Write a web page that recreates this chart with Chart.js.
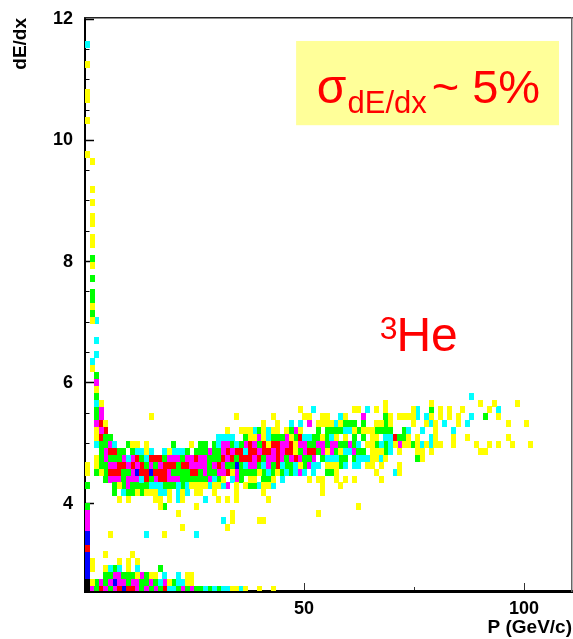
<!DOCTYPE html>
<html>
<head>
<meta charset="utf-8">
<script src="https://cdn.jsdelivr.net/npm/chart.js@4"></script>
<style>
  html, body { margin: 0; background: #fff; }
  canvas { display: block; }
</style>
</head>
<body>
<canvas id="chart" width="573" height="639"></canvas>
<script>
// bin centres of the histogram
const pBins = [0.85, 1.88, 2.90, 3.93, 4.96, 5.99, 7.01, 8.04, 9.07, 10.09,
  11.12, 12.15, 13.17, 14.20, 15.23, 16.26, 17.28, 18.31, 19.34, 20.36,
  21.39, 22.42, 23.44, 24.47, 25.50, 26.53, 27.55, 28.58, 29.61, 30.63,
  31.66, 32.69, 33.71, 34.74, 35.77, 36.80, 37.82, 38.85, 39.88, 40.90,
  41.93, 42.96, 43.98, 45.01, 46.04, 47.07, 48.09, 49.12, 50.15, 51.17,
  52.20, 53.23, 54.25, 55.28, 56.31, 57.34, 58.36, 59.39, 60.42, 61.44,
  62.47, 63.50, 64.52, 65.55, 66.58, 67.61, 68.63, 69.66, 70.69, 71.71,
  72.74, 73.77, 74.79, 75.82, 76.85, 77.88, 78.90, 79.93, 80.96, 81.98,
  83.01, 84.04, 85.06, 86.09, 87.12, 88.15, 89.17, 90.20, 91.23, 92.25,
  93.28, 94.31, 95.33, 96.36, 97.39, 98.42, 99.44, 100.47, 101.50, 102.52];
const dedxBins = [2.590, 2.704, 2.818, 2.932, 3.046, 3.160, 3.273, 3.387, 3.501, 3.615,
  3.729, 3.843, 3.957, 4.071, 4.185, 4.299, 4.412, 4.526, 4.640, 4.754,
  4.868, 4.982, 5.096, 5.210, 5.324, 5.438, 5.551, 5.665, 5.779, 5.893,
  6.007, 6.121, 6.235, 6.349, 6.463, 6.577, 6.690, 6.804, 6.918, 7.032,
  7.146, 7.260, 7.374, 7.488, 7.602, 7.716, 7.829, 7.943, 8.057, 8.171,
  8.285, 8.399, 8.513, 8.627, 8.741, 8.855, 8.968, 9.082, 9.196, 9.310,
  9.424, 9.538, 9.652, 9.766, 9.880, 9.994, 10.107, 10.221, 10.335, 10.449,
  10.563, 10.677, 10.791, 10.905, 11.019, 11.133, 11.246, 11.360, 11.474, 11.588];

// one line per dE/dx bin: [first p bin, level of each following bin]
// y < c < g < m < r < b < k, "." is an empty bin
const cellRows = [
  [[0, "kmgrmgmrbrrmgmgmgrccgmgmggcgcgccyycy..y..y"]],
  [[0, "kygmgmbmmgmmggmgcmygccyy"]],
  [[0, "b...ggmmgggymgyy.c..c.yy"]],
  [[0, "by..ycgc.y.c....g"]],
  [[0, "by.....y.y.y"]],
  [[0, "b...y.....y"]],
  [[0, "r"]],
  [[0, "b"]],
  [[0, "b....y.......c...y......c"]],
  [[0, "m"], [21, "y"], [31, "y"]],
  [[0, "m"], [30, "c"], [32, "y"], [38, "yy"]],
  [[0, "m"], [20, "y"], [32, "y"], [51, "y"]],
  [[0, "g"], [16, "yg"], [24, "y"], [60, "y"]],
  [[7, "y.y"], [15, "yy.y.cy"], [26, "c"], [29, "y.y.y"], [40, "y"]],
  [[6, "g.cggygyyyccy.cyc.yy..y"], [33, "y"], [39, "y"], [52, "y"]],
  [[0, "g"], [6, "gygmggggcccgggcgcyyyycyycm.y"], [35, "yggcyyc"], [52, "y"], [56, "y"]],
  [[4, "gmmmgmmmcrgmrrmmmggggggmcgy.cmg."], [36, "yy.ggy.c"], [49, "y.yy..y.y.y.....y"]],
  [[0, "y.gygrrrggmbrrbrrrmggggrrgmggmmrymggggygcgygcgcmc.c..ggy"], [64, "y...cy"]],
  [[0, "y.yggmmrrmrmrgmgmrrrgrrmmmmgmrmggbgcmmgcmgrcggcygmcc.yyygc.cc.yy.y...y"]],
  [[2, "ygmgggmcmrgcrrrgmmmgmmrmmgggrmrgrrrmrgmmrmgmrmggm.gcccgg.gcccyycy"], [73, "gy"]],
  [[3, "gmrrgg.gccyc..cycccg.gggmggmrmrrcrrmrrmrmrrygmrrgmymgyccmgg.yyygc.y"], [73, "yy.y"], [87, "yy"]],
  [[2, "cggmc..gyy.y.....g...y.gg.gcmmgcgmrmgryrrmmrymmggmmgmmggmgc.yygcgcym"], [70, "yygycycyy..y"], [86, "y..y.y..y...y"]],
  [[2, "yrgg"], [29, "cccc..gyymycgggmygrccggygcy.y.g.g.yy.ccrggy"], [73, "y..cy...y..y"], [93, "y"]],
  [[2, "ymr"], [31, "y..yyycgycyy.ygmy...g.ggggccygyyygggg..gc"], [74, "c..y...c"]],
  [[2, "mry"], [39, "y..y..c.c.m.yyyycyggg.g..yygy"], [72, "y..ycy.c..y.c"], [93, "y...y"]],
  [[2, "gm"], [14, "y"], [33, "y"], [41, "y......yy..yy..cy...m....gy.yyyyc.cy.y.y.y..c..g..y"]],
  [[2, "gm"], [47, "y..c........yy.c.y.y"], [72, "yc..g.y.y..y.....y.c"]],
  [[2, "cy"], [66, "y"], [76, "y"], [87, "y..y....y"]],
  [[2, "g"], [85, "c"]],
  [[2, "y"]],
  [[2, "m"]],
  [[2, "g"]],
  [[1, "y"]],
  [[1, "c"]],
  [[2, "c"]],
  [],
  [[2, "c"]],
  [],
  [],
  [[1, "yc"]],
  [[1, "g"]],
  [[1, "y"]],
  [[1, "g"]],
  [[1, "g"]],
  [],
  [[1, "g"]],
  [],
  [[1, "y"]],
  [[1, "g"]],
  [],
  [[1, "y"]],
  [[1, "y"]],
  [],
  [[1, "y"]],
  [[1, "y"]],
  [],
  [[1, "y"]],
  [],
  [[1, "y"]],
  [], [], [],
  [[1, "y"]],
  [[0, "y"]],
  [], [], [], [],
  [[0, "y"]],
  [], [],
  [[0, "y"]],
  [[0, "y"]],
  [], [], [],
  [[0, "y"]],
  [], [],
  [[0, "c"]]
];

const levels = ["y", "c", "g", "m", "r", "b", "k"];
const levelColors = ["#ffff00", "#00ffff", "#00ff00", "#ff00ff", "#ff0000", "#0000ff", "#000000"];

const pTicksMajor = 50, pTicksMinor = 25;
const dedxTicksMajor = 2, dedxTicksMinor = 0.5;

// one filled tile per level, used as the point style
function cellTile(color) {
  const c = document.createElement("canvas");
  c.width = 5; c.height = 7;
  const g = c.getContext("2d");
  g.fillStyle = color;
  g.fillRect(0, 0, 5, 7);
  return c;
}

function cellsOfLevel(level) {
  const pts = [];
  cellRows.forEach((segments, r) => {
    segments.forEach(([start, cells]) => {
      [...cells].forEach((cell, i) => {
        if (cell === level) pts.push({ x: pBins[start + i], y: dedxBins[r] });
      });
    });
  });
  return pts;
}

const datasets = levels.map((level, i) => ({
  label: level,
  data: cellsOfLevel(level),
  pointStyle: cellTile(levelColors[i]),
  pointRadius: 3,
  pointHoverRadius: 3
}));

// yellow box and the two red labels, placed through the scales
const labelsPlugin = {
  id: "labels",
  beforeDatasetsDraw(chart) {
    const { x, y } = chart.scales;
    const ctx = chart.ctx;
    ctx.save();
    ctx.fillStyle = "#ffff99";
    ctx.fillRect(x.getPixelForValue(48.2), y.getPixelForValue(11.64),
      x.getPixelForValue(107.95) - x.getPixelForValue(48.2),
      y.getPixelForValue(10.25) - y.getPixelForValue(11.64));
    ctx.fillStyle = "#ff0000";
    ctx.textBaseline = "alphabetic";
    const put = (text, p, e, size) => {
      ctx.font = `${size}px "Liberation Sans"`;
      ctx.fillText(text, x.getPixelForValue(p), y.getPixelForValue(e));
    };
    put("σ", 52.9, 10.61, 48);
    put("dE/dx", 59.9, 10.45, 31);
    put("~ 5%", 79.0, 10.61, 47);
    put("3", 67.2, 6.72, 32);
    put("He", 71.0, 6.53, 48);
    ctx.restore();
  }
};

const tickFont = { family: "Liberation Sans", size: 18, weight: "bold" };
const titleFont = { family: "Liberation Sans", size: 19, weight: "bold" };
const pRange = { min: 0.227, max: 110.9 };
const dedxRange = { min: 2.564, max: 12.019 };

// helper for the axes that only add minor ticks or the frame
const bareAxis = (extra) => Object.assign({
  ticks: { display: false, includeBounds: false },
  border: { display: false },
  grid: { drawOnChartArea: false, drawTicks: false }
}, extra);

new Chart(document.getElementById("chart"), {
  type: "scatter",
  data: { datasets },
  plugins: [labelsPlugin],
  options: {
    responsive: false,
    animation: false,
    devicePixelRatio: 1,
    layout: { autoPadding: false, padding: { top: 18, right: 1, left: 0, bottom: 0 } },
    plugins: { legend: { display: false }, tooltip: { enabled: false } },
    scales: {
      x: {
        type: "linear", position: "bottom", weight: 1, ...pRange,
        afterFit: s => { s.height = 48; s.paddingLeft = 0; s.paddingRight = 0; },
        border: { display: true, color: "#000", width: 3 },
        grid: { drawOnChartArea: false, tickLength: -8, tickColor: "#333", tickWidth: 1 },
        ticks: {
          stepSize: pTicksMajor, includeBounds: false, autoSkip: false, maxRotation: 0,
          color: "#000", font: tickFont, padding: 15
        },
        title: { display: true, text: "P (GeV/c)", align: "end", color: "#000", font: titleFont, padding: { top: 0, bottom: 0 } }
      },
      y: {
        type: "linear", position: "left", weight: 1, ...dedxRange,
        afterFit: s => { s.width = 85; s.paddingTop = 0; s.paddingBottom = 0; },
        border: { display: true, color: "#000", width: 2 },
        grid: { drawOnChartArea: false, tickLength: -9, tickColor: "#000", tickWidth: 1.5 },
        ticks: {
          stepSize: dedxTicksMajor, includeBounds: false, autoSkip: false,
          color: "#000", font: tickFont, padding: 21
        },
        title: { display: true, text: "dE/dx", align: "end", color: "#000", font: titleFont, padding: { top: 9, bottom: 0 } }
      },
      xMinor: bareAxis({
        type: "linear", position: "bottom", weight: 0, ...pRange,
        afterFit: s => { s.height = 0; s.paddingLeft = 0; s.paddingRight = 0; },
        ticks: { display: false, stepSize: pTicksMinor, includeBounds: false },
        grid: { drawOnChartArea: false, drawTicks: true, tickLength: -4, tickColor: "#333", tickWidth: 1 }
      }),
      yMinor: bareAxis({
        type: "linear", position: "left", weight: 0, ...dedxRange,
        afterFit: s => { s.width = 0; s.paddingTop = 0; s.paddingBottom = 0; },
        ticks: { display: false, stepSize: dedxTicksMinor, includeBounds: false },
        grid: { drawOnChartArea: false, drawTicks: true, tickLength: -4.5, tickColor: "#000", tickWidth: 1 }
      }),
      xTop: bareAxis({
        type: "linear", position: "top", ...pRange,
        afterFit: s => { s.height = 0; },
        border: { display: true, color: "#222", width: 1.5 }
      }),
      yRight: bareAxis({
        type: "linear", position: "right", ...dedxRange,
        afterFit: s => { s.width = 0; },
        border: { display: true, color: "#666", width: 1.5 }
      })
    }
  }
});
</script>
</body>
</html>
